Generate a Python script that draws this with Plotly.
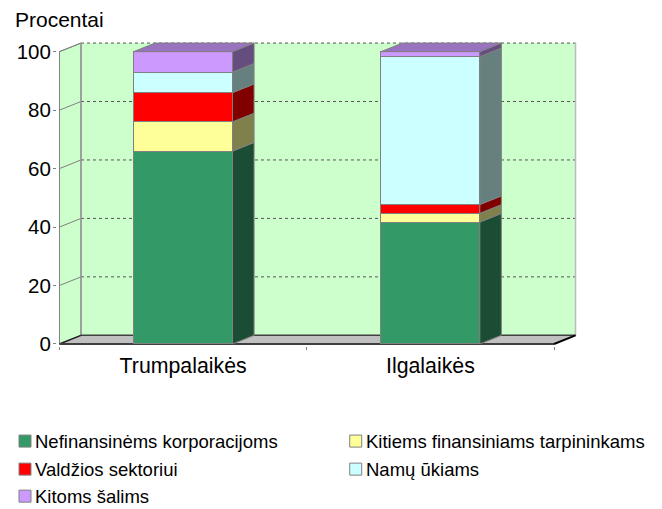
import plotly.graph_objects as go

# ---- data ----
categories = ["Trumpalaikės", "Ilgalaikės"]
nefinansinems = [66.0, 41.7]
kitiems_fin = [10.0, 3.0]
valdzios = [10.0, 3.0]
namu_ukiams = [7.0, 50.6]
kitoms_salims = [7.0, 1.7]
series_names = ["Nefinansinėms korporacijoms", "Kitiems finansiniams tarpininkams",
                "Valdžios sektoriui", "Namų ūkiams", "Kitoms šalims"]
y_ticks = [0, 20, 40, 60, 80, 100]

all_series = [nefinansinems, kitiems_fin, valdzios, namu_ukiams, kitoms_salims]
front_colors = ["#339966", "#FFFF99", "#FF0000", "#CCFFFF", "#CC99FF"]
side_colors = ["#1A4D33", "#80804D", "#800000", "#668080", "#664D80"]
top_color = "#9973BF"
EDGE = "#808080"

# ---- geometry of the pseudo 3D box (page pixels; the page body adds 8px) ----
PAGE = 8
W, H = 662 - PAGE, 509 - PAGE
DX, DY = 0.087, 2.95
BAR_W = 0.4
xpos = [0.5, 1.5]
XMAX, YMAX = 2 + DX, 100 + DY
SX, SY = 247.25, 2.919        # pixels per axis unit
PADX, PADY = 0.01, 0.7        # room so that edge lines are not clipped
L = 59.5 - PAGE - PADX * SX
R = 576 - PAGE + PADX * SX
B = 344 - PAGE + PADY * SY
T = 43.5 - PAGE - PADY * SY


def lx(px):
    return (px - PAGE - L) / (R - L)


def ly(py):
    return (B - (py - PAGE)) / (B - T)


fig = go.Figure()

# front faces
for i, (name, vals) in enumerate(zip(series_names, all_series)):
    fig.add_trace(go.Bar(
        x=xpos, y=vals, width=BAR_W, name=name,
        marker=dict(color=front_colors[i], line=dict(color=EDGE, width=1)),
        showlegend=False, hoverinfo="y+name"))

# side and top faces, computed from the stacked values
for c, xc in enumerate(xpos):
    x1 = xc + BAR_W / 2
    x0 = xc - BAR_W / 2
    base = 0.0
    for i, vals in enumerate(all_series):
        top = base + vals[c]
        fig.add_trace(go.Scatter(
            x=[x1, x1 + DX, x1 + DX, x1, x1],
            y=[base, base + DY, top + DY, top, base],
            mode="lines", fill="toself", fillcolor=side_colors[i],
            line=dict(color=EDGE, width=1), showlegend=False, hoverinfo="skip"))
        base = top
    fig.add_trace(go.Scatter(
        x=[x0, x1, x1 + DX, x0 + DX, x0],
        y=[base, base, base + DY, base + DY, base],
        mode="lines", fill="toself", fillcolor=top_color,
        line=dict(color=EDGE, width=1), showlegend=False, hoverinfo="skip"))

shapes = []
below = dict(xref="x", yref="y", layer="below")
# back wall
shapes.append(dict(type="rect", x0=DX, x1=XMAX, y0=DY, y1=YMAX,
                   fillcolor="#CCFFCC", line=dict(width=0), **below))
# left wall
shapes.append(dict(type="path", path=f"M 0 0 L {DX} {DY} L {DX} {YMAX} L 0 100 Z",
                   fillcolor="#CCFFCC", line=dict(color=EDGE, width=1), **below))
# floor
shapes.append(dict(type="path", path=f"M 0 0 L 2 0 L {XMAX} {DY} L {DX} {DY} Z",
                   fillcolor="#C0C0C0", line=dict(width=0), **below))
# grid on the back and left walls
for t in y_ticks[1:]:
    shapes.append(dict(type="line", x0=DX, x1=XMAX, y0=t + DY, y1=t + DY,
                       line=dict(color="#555555", width=1, dash="dot"), **below))
    shapes.append(dict(type="line", x0=0, x1=DX, y0=t, y1=t + DY,
                       line=dict(color=EDGE, width=1), **below))
# wall edges
shapes.append(dict(type="line", x0=DX, x1=DX, y0=DY, y1=YMAX,
                   line=dict(color="#999999", width=1.5), **below))
shapes.append(dict(type="line", x0=XMAX, x1=XMAX, y0=DY, y1=YMAX,
                   line=dict(color="#BBBBBB", width=1.5), **below))
# floor edges
shapes.append(dict(type="line", x0=DX, x1=XMAX, y0=DY, y1=DY,
                   line=dict(color="#404040", width=1.5), **below))
shapes.append(dict(type="line", x0=0, x1=DX, y0=0, y1=DY,
                   line=dict(color="#202020", width=1.5), **below))
shapes.append(dict(type="line", x0=0, x1=2, y0=0, y1=0,
                   line=dict(color="#404040", width=2), **below))
shapes.append(dict(type="line", x0=2, x1=XMAX, y0=0, y1=DY,
                   line=dict(color="#000000", width=2), **below))

FONT = "Liberation Sans, Arial, sans-serif"
annotations = [dict(text="Procentai", xref="paper", yref="paper",
                    x=lx(13), y=ly(20), xanchor="left", yanchor="middle",
                    showarrow=False, font=dict(size=21, family=FONT))]

# legend: swatch left edge and row centre in page pixels
legend_pos = [(19, 441), (350, 441), (19, 469), (350, 469), (19, 496)]
SW = 12
for i, (px, py) in enumerate(legend_pos):
    shapes.append(dict(type="rect", xref="paper", yref="paper",
                       x0=lx(px), x1=lx(px + SW), y0=ly(py + SW / 2), y1=ly(py - SW / 2),
                       fillcolor=front_colors[i], line=dict(color=EDGE, width=1)))
    annotations.append(dict(text=series_names[i], xref="paper", yref="paper",
                            x=lx(px + SW + 2.5), y=ly(py), xanchor="left", yanchor="middle",
                            showarrow=False, font=dict(size=18.5, family=FONT)))

fig.update_layout(
    width=W, height=H,
    margin=dict(l=L, r=W - R, t=T, b=H - B, autoexpand=False),
    paper_bgcolor="white", plot_bgcolor="white",
    barmode="stack", showlegend=False,
    font=dict(family=FONT, color="#000000"),
    shapes=shapes, annotations=annotations,
    xaxis=dict(range=[-PADX, XMAX + PADX], tickvals=xpos, ticktext=categories, ticks="",
               showgrid=False, zeroline=False, showline=False,
               tickfont=dict(size=21.3, family=FONT), ticklabelstandoff=5,
               minor=dict(tickvals=[0, 1, 2], ticks="outside", ticklen=3,
                          tickcolor=EDGE, tickwidth=1, showgrid=False)),
    yaxis=dict(range=[-PADY, YMAX + PADY], tickvals=y_ticks, ticks="outside", ticklen=3,
               tickcolor=EDGE, tickwidth=1, showgrid=False, zeroline=False,
               showline=False, ticklabelstandoff=-2, tickfont=dict(size=20.5, family=FONT)),
)
fig.write_html("out.html")
